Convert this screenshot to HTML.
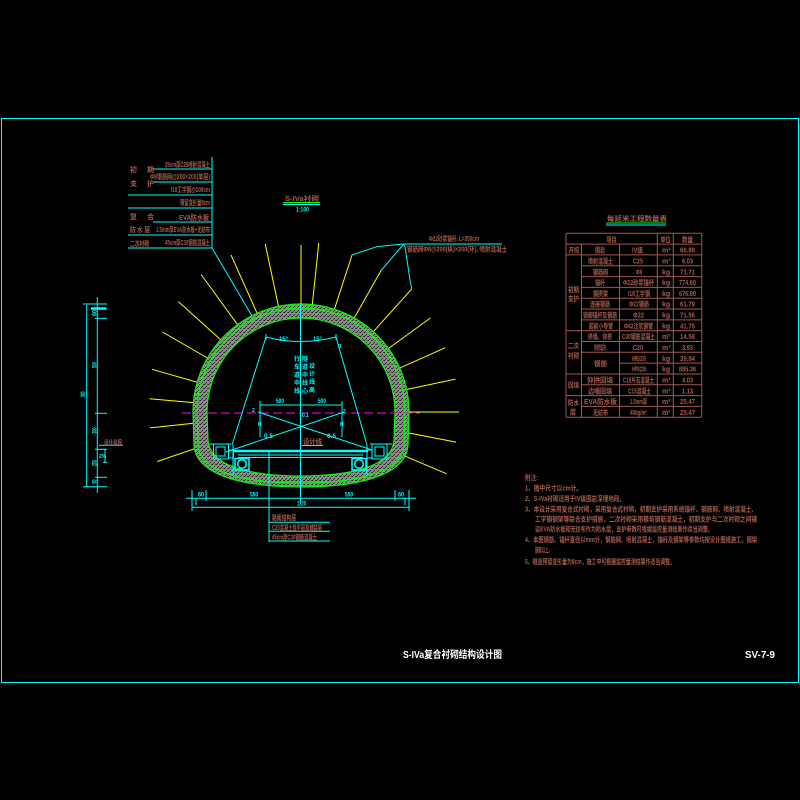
<!DOCTYPE html>
<html><head><meta charset="utf-8"><style>
html,body{margin:0;padding:0;background:#000;}
svg{display:block;}
.c{stroke:#00ffff;fill:none;stroke-width:1;}
.y{stroke:#ffff00;fill:none;stroke-width:1;}
.g{stroke:#00ff00;fill:none;stroke-width:1.2;}
.b{stroke:#a05a4b;fill:none;stroke-width:1;}
text{font-family:"Liberation Sans","Noto Sans CJK SC",sans-serif;}
.tb{fill:#a65d4d;font-size:7px;font-weight:bold;}
.tc{fill:#00ffff;font-size:6px;font-weight:bold;}
.tw{fill:#ffffff;font-size:10px;font-weight:bold;}
</style></head><body>
<svg width="800" height="800" viewBox="0 0 800 800" xmlns="http://www.w3.org/2000/svg">
<defs>
<pattern id="sp" width="4" height="4" patternUnits="userSpaceOnUse">
<rect width="4" height="4" fill="#8c8c8c"/>
<rect x="0" y="0" width="1" height="1" fill="#1a1a1a"/>
<rect x="2" y="2" width="1" height="1" fill="#1a1a1a"/>
<rect x="3" y="0" width="1" height="1" fill="#444"/>
<rect x="1" y="3" width="1" height="1" fill="#333"/>
</pattern>
</defs>
<rect width="800" height="800" fill="#000"/>
<rect x="1.5" y="118.5" width="797" height="564" class="c"/>

<g class="y">
<line x1="312.3" y1="304.6" x2="318.8" y2="242.9"/>
<line x1="334.4" y1="309.3" x2="352" y2="255.1"/>
<line x1="354.2" y1="318" x2="381.3" y2="270.1"/>
<line x1="373.3" y1="331.7" x2="412.1" y2="288.6"/>
<line x1="388.4" y1="348.5" x2="430.4" y2="318"/>
<line x1="399.7" y1="368.1" x2="445.3" y2="347.7"/>
<line x1="406.6" y1="389.5" x2="455.5" y2="379.1"/>
<line x1="409" y1="412" x2="459" y2="412"/>
<line x1="407" y1="432.6" x2="456.1" y2="442.1"/>
<line x1="400.4" y1="454.2" x2="446.4" y2="473.7"/>
<line x1="301" y1="304" x2="301" y2="245"/>
<line x1="278.5" y1="306.4" x2="265.2" y2="243.8"/>
<line x1="257.1" y1="313.3" x2="231" y2="254.9"/>
<line x1="237.5" y1="324.6" x2="201.1" y2="274.5"/>
<line x1="220.7" y1="339.7" x2="178.4" y2="301.6"/>
<line x1="207.5" y1="358" x2="162.4" y2="332"/>
<line x1="197.2" y1="382.2" x2="152" y2="369.3"/>
<line x1="193.4" y1="402.6" x2="149.6" y2="398.7"/>
<line x1="193.6" y1="423.3" x2="149.8" y2="427.9"/>
<line x1="198.9" y1="447.2" x2="157.3" y2="461.5"/>
</g>

<path fill="url(#sp)" fill-rule="evenodd" d="M193,412 A108,108 0 0 1 409,412 L408,445 C406,478 350,487 301,487 C252,487 196,478 194,445 Z M207,412 A94,94 0 0 1 395,412 L394,440 C392,470 340,476 301,476 C262,476 210,470 208,440 Z"/>
<path class="g" d="M193,412 A108,108 0 0 1 409,412 L408,445 C406,478 350,487 301,487 C252,487 196,478 194,445 Z"/>
<path class="g" stroke-width="1" d="M197,412 A104,104 0 0 1 405,412 L404,445 C402,475 348,483 301,483 C254,483 200,475 198,445 Z"/>
<path class="g" d="M207,412 A94,94 0 0 1 395,412 L394,440 C392,470 340,476 301,476 C262,476 210,470 208,440 Z"/>

<line x1="182" y1="413" x2="420" y2="413" stroke="#ff00ff" stroke-width="1" stroke-dasharray="9,4"/>
<line x1="300.5" y1="303" x2="300.5" y2="503" class="c"/>

<g class="c">
<path d="M266,337 Q300,346 336,337"/>
<line x1="266" y1="334" x2="266" y2="340"/>
<line x1="336" y1="334" x2="336" y2="340"/>
<line x1="266" y1="337" x2="232" y2="445"/>
<line x1="336" y1="337" x2="367" y2="445"/>
<line x1="233" y1="445" x2="233" y2="475"/>
<line x1="367" y1="445" x2="367" y2="475"/>
<line x1="260" y1="405" x2="342" y2="405"/>
<line x1="260" y1="401" x2="260" y2="437"/>
<line x1="342" y1="401" x2="342" y2="437"/>
<line x1="258" y1="412" x2="372" y2="450"/>
<line x1="344" y1="412" x2="226" y2="452"/>
<line x1="233" y1="451" x2="368" y2="451" stroke-width="2.5"/>
<line x1="238" y1="455" x2="363" y2="455"/>
<line x1="238" y1="457.5" x2="363" y2="457.5"/>
<line x1="209" y1="444" x2="231" y2="444"/>
<rect x="213.5" y="444" width="15" height="15"/>
<rect x="216" y="447" width="9" height="9"/>
<rect x="228.5" y="450" width="5" height="8"/>
<line x1="370" y1="444" x2="392" y2="444"/>
<rect x="372" y="444" width="15" height="15"/>
<rect x="375" y="447" width="9" height="9"/>
<rect x="367" y="450" width="5" height="8"/>
<rect x="235" y="458.5" width="14" height="11.5" stroke-width="1.5"/>
<circle cx="242" cy="464" r="4.3" stroke-width="1.5"/>
<rect x="352" y="458.5" width="14" height="11.5" stroke-width="1.5"/>
<circle cx="359" cy="464" r="4.3" stroke-width="1.5"/>
<line x1="269" y1="451" x2="269" y2="542"/>
<line x1="269" y1="522.3" x2="330" y2="522.3"/>
<line x1="269" y1="531.3" x2="330" y2="531.3"/>
<line x1="269" y1="541" x2="330" y2="541"/>
<line x1="302" y1="445.5" x2="323" y2="445.5"/>
</g>

<g class="tc">
<text x="279" y="341" textLength="9" lengthAdjust="spacingAndGlyphs">15°</text>
<text x="313" y="341" textLength="9" lengthAdjust="spacingAndGlyphs">15°</text>
<text x="338" y="348" font-size="5">R</text>
<text x="276" y="403" textLength="8" lengthAdjust="spacingAndGlyphs">500</text>
<text x="318" y="403" textLength="8" lengthAdjust="spacingAndGlyphs">500</text>
<text x="252" y="412" font-size="5">2</text>
<text x="343" y="413" font-size="5">2</text>
<text x="302" y="417" font-size="5">0.1</text>
<text x="264" y="438" textLength="9" lengthAdjust="spacingAndGlyphs">0.5</text>
<text x="327" y="438" textLength="9" lengthAdjust="spacingAndGlyphs">0.5</text>
<text x="258" y="426" font-size="5">H</text>
<text x="340" y="426" font-size="5">H</text>
<text x="294" y="361">行</text><text x="294" y="369">车</text><text x="294" y="377">道</text><text x="294" y="385">中</text><text x="294" y="393">线</text>
<text x="302" y="361">隧</text><text x="302" y="369">道</text><text x="302" y="377">中</text><text x="302" y="385">线</text><text x="302" y="393">心</text>
<text x="309" y="368">设</text><text x="309" y="376">计</text><text x="309" y="384">线</text><text x="309" y="392">高</text>
</g>
<text class="tb" x="303" y="444" textLength="19" lengthAdjust="spacingAndGlyphs">设计线</text>

<g class="c">
<line x1="186" y1="498.3" x2="416" y2="498.3"/>
<line x1="192" y1="507.3" x2="409" y2="507.3"/>
<line x1="192" y1="490" x2="192" y2="511"/>
<line x1="206" y1="490" x2="206" y2="501"/>
<line x1="395" y1="490" x2="395" y2="501"/>
<line x1="409" y1="490" x2="409" y2="511"/>
<line x1="196" y1="498" x2="196" y2="505"/>
<line x1="405" y1="498" x2="405" y2="505"/>
</g>
<g class="tc">
<text x="198" y="496.5" textLength="6" lengthAdjust="spacingAndGlyphs">60</text>
<text x="250" y="496.5" textLength="8" lengthAdjust="spacingAndGlyphs">550</text>
<text x="345" y="496.5" textLength="8" lengthAdjust="spacingAndGlyphs">550</text>
<text x="398" y="496.5" textLength="6" lengthAdjust="spacingAndGlyphs">60</text>
<text x="297" y="505.5" textLength="9" lengthAdjust="spacingAndGlyphs">1220</text>
</g>
<g class="tb">
<text x="272" y="520" textLength="24" lengthAdjust="spacingAndGlyphs">路面结构层</text>
<text x="272" y="530" textLength="50" lengthAdjust="spacingAndGlyphs">C20混凝土找平层及铺装层</text>
<text x="272" y="539.5" textLength="45" lengthAdjust="spacingAndGlyphs">45cm厚C30钢筋混凝土</text>
</g>

<g class="c">
<line x1="86.7" y1="305" x2="86.7" y2="487"/>
<line x1="97.3" y1="297" x2="97.3" y2="493"/>
<line x1="83" y1="304" x2="107" y2="304"/>
<rect x="91" y="307.3" width="15.5" height="2.5" fill="#00ffff" stroke="none"/>
<line x1="95" y1="318.3" x2="107" y2="318.3"/>
<line x1="95" y1="413.3" x2="107" y2="413.3"/>
<line x1="95" y1="449.3" x2="107" y2="449.3"/>
<line x1="95" y1="477.3" x2="107" y2="477.3"/>
<line x1="83" y1="486.7" x2="107" y2="486.7"/>
<line x1="99" y1="445.3" x2="123" y2="445.3"/>
<line x1="105" y1="449" x2="105" y2="462"/>
<line x1="103" y1="462.3" x2="107" y2="462.3"/>
</g>
<g class="tc">
<text transform="translate(96.5,316) rotate(-90)" textLength="6" lengthAdjust="spacingAndGlyphs">60</text>
<text transform="translate(96.5,368) rotate(-90)" textLength="6" lengthAdjust="spacingAndGlyphs">500</text>
<text transform="translate(85,397.5) rotate(-90)" textLength="6" lengthAdjust="spacingAndGlyphs">1000</text>
<text transform="translate(96.5,433.5) rotate(-90)" textLength="6" lengthAdjust="spacingAndGlyphs">300</text>
<text transform="translate(96.5,466) rotate(-90)" textLength="6" lengthAdjust="spacingAndGlyphs">250</text>
<text transform="translate(96.5,483.5) rotate(-90)" textLength="4" lengthAdjust="spacingAndGlyphs">60</text>
<text x="99" y="458" font-size="5">2%</text>
</g>
<text class="tb" x="104" y="445" textLength="18" lengthAdjust="spacingAndGlyphs">设计高程</text>

<g class="c">
<line x1="212" y1="157" x2="212" y2="248"/>
<line x1="153" y1="169" x2="212" y2="169"/>
<line x1="153" y1="182" x2="212" y2="182"/>
<line x1="128" y1="195" x2="212" y2="195"/>
<line x1="128" y1="208" x2="212" y2="208"/>
<line x1="153" y1="222" x2="212" y2="222"/>
<line x1="128" y1="235" x2="212" y2="235"/>
<line x1="128" y1="248" x2="212" y2="248"/>
<line x1="212" y1="248" x2="252" y2="316"/>
</g>
<g class="tb">
<text x="165" y="167" textLength="45" lengthAdjust="spacingAndGlyphs">25cm厚C25喷射混凝土</text>
<text x="150" y="179" textLength="60" lengthAdjust="spacingAndGlyphs">Φ8钢筋网@200×200(单层)</text>
<text x="171" y="192" textLength="39" lengthAdjust="spacingAndGlyphs">I18工字钢@100cm</text>
<text x="180" y="205" textLength="30" lengthAdjust="spacingAndGlyphs">预留变形量8cm</text>
<text x="179" y="220" textLength="30" lengthAdjust="spacingAndGlyphs">EVA防水板</text>
<text x="156" y="232" textLength="54" lengthAdjust="spacingAndGlyphs">1.5mm厚EVA防水板+无纺布</text>
<text x="165" y="245" textLength="45" lengthAdjust="spacingAndGlyphs">45cm厚C30钢筋混凝土</text>
<text x="130" y="172">初</text><text x="147" y="172">期</text>
<text x="130" y="186">支</text><text x="147" y="186">护</text>
<text x="130" y="219">复</text><text x="147" y="219">合</text>
<text x="130" y="232" textLength="20" lengthAdjust="spacingAndGlyphs">防 水 层</text>
<text x="130" y="246" textLength="19" lengthAdjust="spacingAndGlyphs">二次衬砌</text>
</g>

<text class="tb" x="285" y="201" font-size="9" textLength="34" lengthAdjust="spacingAndGlyphs">S-IVa衬砌</text>
<line x1="283" y1="202.5" x2="320" y2="202.5" stroke="#00ff00" stroke-width="1"/>
<line x1="283" y1="204.5" x2="320" y2="204.5" stroke="#00ffff" stroke-width="1"/>
<text class="tc" x="296" y="211.5" textLength="13" lengthAdjust="spacingAndGlyphs">1:100</text>

<g class="c">
<line x1="403" y1="244" x2="502" y2="244"/>
<polyline points="403,244 376.7,246.7 351.7,255"/>
<line x1="403" y1="245" x2="381.5" y2="270"/>
<polyline points="403,244 405,246.7 410,280 411.7,288.3"/>
</g>
<g class="tb">
<text x="429" y="241" textLength="50" lengthAdjust="spacingAndGlyphs">Φ22砂浆锚杆, L=350cm</text>
<text x="407" y="251.5" textLength="100" lengthAdjust="spacingAndGlyphs">钢筋网Φ8@200(纵)×200(环), 喷射混凝土</text>
</g>

<text class="tb" x="607" y="221" font-size="9" textLength="60" lengthAdjust="spacingAndGlyphs">每延米工程数量表</text>
<line x1="606" y1="223" x2="666" y2="223" stroke="#00ff00" stroke-width="1"/>
<line x1="606" y1="225" x2="666" y2="225" stroke="#00ffff" stroke-width="1"/>
<g class="b">
<line x1="566" y1="233.3" x2="701.7" y2="233.3"/>
<line x1="566" y1="244.1" x2="701.7" y2="244.1"/>
<line x1="566" y1="254.9" x2="701.7" y2="254.9"/>
<line x1="581.5" y1="265.8" x2="701.7" y2="265.8"/>
<line x1="581.5" y1="276.6" x2="701.7" y2="276.6"/>
<line x1="581.5" y1="287.4" x2="701.7" y2="287.4"/>
<line x1="581.5" y1="298.2" x2="701.7" y2="298.2"/>
<line x1="581.5" y1="309.0" x2="701.7" y2="309.0"/>
<line x1="581.5" y1="319.9" x2="701.7" y2="319.9"/>
<line x1="566" y1="330.7" x2="701.7" y2="330.7"/>
<line x1="581.5" y1="341.5" x2="701.7" y2="341.5"/>
<line x1="581.5" y1="352.3" x2="701.7" y2="352.3"/>
<line x1="619.5" y1="363.1" x2="701.7" y2="363.1"/>
<line x1="566" y1="374.0" x2="701.7" y2="374.0"/>
<line x1="581.5" y1="384.8" x2="701.7" y2="384.8"/>
<line x1="566" y1="395.6" x2="701.7" y2="395.6"/>
<line x1="581.5" y1="406.4" x2="701.7" y2="406.4"/>
<line x1="566" y1="417.2" x2="701.7" y2="417.2"/>
<line x1="566" y1="233.3" x2="566" y2="417.2"/>
<line x1="581.5" y1="244.1" x2="581.5" y2="417.2"/>
<line x1="619.5" y1="244.1" x2="619.5" y2="417.2"/>
<line x1="657.3" y1="233.3" x2="657.3" y2="417.2"/>
<line x1="673.3" y1="233.3" x2="673.3" y2="417.2"/>
<line x1="701.7" y1="233.3" x2="701.7" y2="417.2"/>
</g>
<g class="tb" font-size="6.5">
<text x="606.5" y="241.8" textLength="10" lengthAdjust="spacingAndGlyphs">项目</text>
<text x="660.5" y="241.8" textLength="10" lengthAdjust="spacingAndGlyphs">单位</text>
<text x="682" y="241.8" textLength="11" lengthAdjust="spacingAndGlyphs">数量</text>
<text x="568.5" y="252.6" textLength="11" lengthAdjust="spacingAndGlyphs">开挖</text>
<text x="595" y="252.6" textLength="10" lengthAdjust="spacingAndGlyphs">围岩</text>
<text x="632" y="252.6" textLength="11" lengthAdjust="spacingAndGlyphs">IV级</text>
<text x="568" y="292" textLength="11" lengthAdjust="spacingAndGlyphs">初期</text>
<text x="568" y="301" textLength="11" lengthAdjust="spacingAndGlyphs">支护</text>
<text x="588" y="263.4" textLength="25" lengthAdjust="spacingAndGlyphs">喷射混凝土</text>
<text x="593" y="274.3" textLength="15" lengthAdjust="spacingAndGlyphs">钢筋网</text>
<text x="595" y="285.1" textLength="10" lengthAdjust="spacingAndGlyphs">锚杆</text>
<text x="593" y="295.9" textLength="15" lengthAdjust="spacingAndGlyphs">钢拱架</text>
<text x="590" y="306.7" textLength="20" lengthAdjust="spacingAndGlyphs">连接钢筋</text>
<text x="583" y="317.5" textLength="34" lengthAdjust="spacingAndGlyphs">锁脚锚杆及钢筋</text>
<text x="589" y="328.4" textLength="24" lengthAdjust="spacingAndGlyphs">超前小导管</text>
<text x="568" y="348" textLength="11" lengthAdjust="spacingAndGlyphs">二次</text>
<text x="568" y="358" textLength="11" lengthAdjust="spacingAndGlyphs">衬砌</text>
<text x="588" y="339.2" textLength="24" lengthAdjust="spacingAndGlyphs">拱墙、仰拱</text>
<text x="594" y="350" textLength="12" lengthAdjust="spacingAndGlyphs">仰拱填充</text>
<text x="594" y="366.2" textLength="13" lengthAdjust="spacingAndGlyphs">钢筋</text>
<text x="568" y="387.5" textLength="11" lengthAdjust="spacingAndGlyphs">回填</text>
<text x="587" y="382.5" textLength="26" lengthAdjust="spacingAndGlyphs">仰拱回填</text>
<text x="588" y="393.3" textLength="24" lengthAdjust="spacingAndGlyphs">边墙回填</text>
<text x="568" y="405" textLength="11" lengthAdjust="spacingAndGlyphs">防水</text>
<text x="570" y="414.5" textLength="6" lengthAdjust="spacingAndGlyphs">层</text>
<text x="584" y="404.1" textLength="33" lengthAdjust="spacingAndGlyphs">EVA防水板</text>
<text x="593" y="414.9" textLength="15" lengthAdjust="spacingAndGlyphs">无纺布</text>
<text x="633" y="263.4" textLength="10" lengthAdjust="spacingAndGlyphs">C25</text>
<text x="636" y="274.3" textLength="6" lengthAdjust="spacingAndGlyphs">Φ8</text>
<text x="623" y="285.1" textLength="31" lengthAdjust="spacingAndGlyphs">Φ22砂浆锚杆</text>
<text x="628" y="295.9" textLength="22" lengthAdjust="spacingAndGlyphs">I18工字钢</text>
<text x="629" y="306.7" textLength="20" lengthAdjust="spacingAndGlyphs">Φ22钢筋</text>
<text x="633" y="317.5" textLength="11" lengthAdjust="spacingAndGlyphs">Φ22</text>
<text x="624" y="328.4" textLength="29" lengthAdjust="spacingAndGlyphs">Φ42注浆钢管</text>
<text x="622" y="339.2" textLength="33" lengthAdjust="spacingAndGlyphs">C30钢筋混凝土</text>
<text x="633" y="350" textLength="10" lengthAdjust="spacingAndGlyphs">C20</text>
<text x="632" y="360.8" textLength="14" lengthAdjust="spacingAndGlyphs">HRB335</text>
<text x="632" y="371.6" textLength="14" lengthAdjust="spacingAndGlyphs">HPB235</text>
<text x="623" y="382.5" textLength="31" lengthAdjust="spacingAndGlyphs">C15片石混凝土</text>
<text x="628" y="393.3" textLength="23" lengthAdjust="spacingAndGlyphs">C15混凝土</text>
<text x="630" y="404.1" textLength="17" lengthAdjust="spacingAndGlyphs">1.5mm厚</text>
<text x="630" y="414.9" textLength="17" lengthAdjust="spacingAndGlyphs">400g/m²</text>
</g>
<g class="tb" font-size="6.5">
<text x="662" y="252.6">m³</text><text x="662" y="263.4">m³</text>
<text x="662" y="274.3">kg</text><text x="662" y="285.1">kg</text><text x="662" y="295.9">kg</text><text x="662" y="306.7">kg</text><text x="662" y="317.5">kg</text><text x="662" y="328.4">kg</text>
<text x="662" y="339.2">m³</text><text x="662" y="350">m³</text><text x="662" y="360.8">kg</text><text x="662" y="371.6">kg</text>
<text x="662" y="382.5">m³</text><text x="662" y="393.3">m³</text><text x="662" y="404.1">m²</text><text x="662" y="414.9">m²</text>
<text x="680" y="252.6" textLength="15" lengthAdjust="spacingAndGlyphs">66.88</text>
<text x="682" y="263.4" textLength="11" lengthAdjust="spacingAndGlyphs">6.03</text>
<text x="680" y="274.3" textLength="15" lengthAdjust="spacingAndGlyphs">71.71</text>
<text x="679" y="285.1" textLength="17" lengthAdjust="spacingAndGlyphs">774.60</text>
<text x="679" y="295.9" textLength="17" lengthAdjust="spacingAndGlyphs">676.80</text>
<text x="680" y="306.7" textLength="15" lengthAdjust="spacingAndGlyphs">61.79</text>
<text x="680" y="317.5" textLength="15" lengthAdjust="spacingAndGlyphs">71.56</text>
<text x="680" y="328.4" textLength="15" lengthAdjust="spacingAndGlyphs">41.75</text>
<text x="680" y="339.2" textLength="15" lengthAdjust="spacingAndGlyphs">14.58</text>
<text x="682" y="350" textLength="11" lengthAdjust="spacingAndGlyphs">3.93</text>
<text x="680" y="360.8" textLength="15" lengthAdjust="spacingAndGlyphs">39.84</text>
<text x="679" y="371.6" textLength="17" lengthAdjust="spacingAndGlyphs">885.36</text>
<text x="682" y="382.5" textLength="11" lengthAdjust="spacingAndGlyphs">4.03</text>
<text x="682" y="393.3" textLength="11" lengthAdjust="spacingAndGlyphs">1.13</text>
<text x="680" y="404.1" textLength="15" lengthAdjust="spacingAndGlyphs">25.47</text>
<text x="680" y="414.9" textLength="15" lengthAdjust="spacingAndGlyphs">25.47</text>
</g>

<g class="tb" font-size="7.5">
<text x="525" y="480" textLength="13" lengthAdjust="spacingAndGlyphs">附注:</text>
<text x="525" y="490.5" textLength="57" lengthAdjust="spacingAndGlyphs">1、图中尺寸以cm计。</text>
<text x="525" y="500.8" textLength="100" lengthAdjust="spacingAndGlyphs">2、S-IVa衬砌适用于IV级围岩深埋地段。</text>
<text x="525" y="511.3" textLength="232" lengthAdjust="spacingAndGlyphs">3、本设计采用复合式衬砌，采用复合式衬砌，初期支护采用系统锚杆、钢筋网、喷射混凝土、</text>
<text x="535" y="521.5" textLength="222" lengthAdjust="spacingAndGlyphs">工字钢钢架等联合支护措施，二次衬砌采用模筑钢筋混凝土，初期支护与二次衬砌之间铺</text>
<text x="535" y="531.5" textLength="178" lengthAdjust="spacingAndGlyphs">设EVA防水板和无纺布作为防水层，支护参数可根据监控量测结果作适当调整。</text>
<text x="525" y="542" textLength="232" lengthAdjust="spacingAndGlyphs">4、本图钢筋、锚杆直径以mm计，钢筋网、喷射混凝土、锚杆及钢架等参数均按设计图纸施工，钢架</text>
<text x="535" y="552.3" textLength="17" lengthAdjust="spacingAndGlyphs">钢架以上。</text>
<text x="525" y="564" textLength="150" lengthAdjust="spacingAndGlyphs">5、隧道预留变形量为8cm，施工中可根据监控量测结果作适当调整。</text>
</g>

<text class="tw" x="403" y="658" textLength="99" lengthAdjust="spacingAndGlyphs">S-IVa复合衬砌结构设计图</text>
<text class="tw" x="745" y="658" textLength="30" lengthAdjust="spacingAndGlyphs">SV-7-9</text>
</svg>
</body></html>
